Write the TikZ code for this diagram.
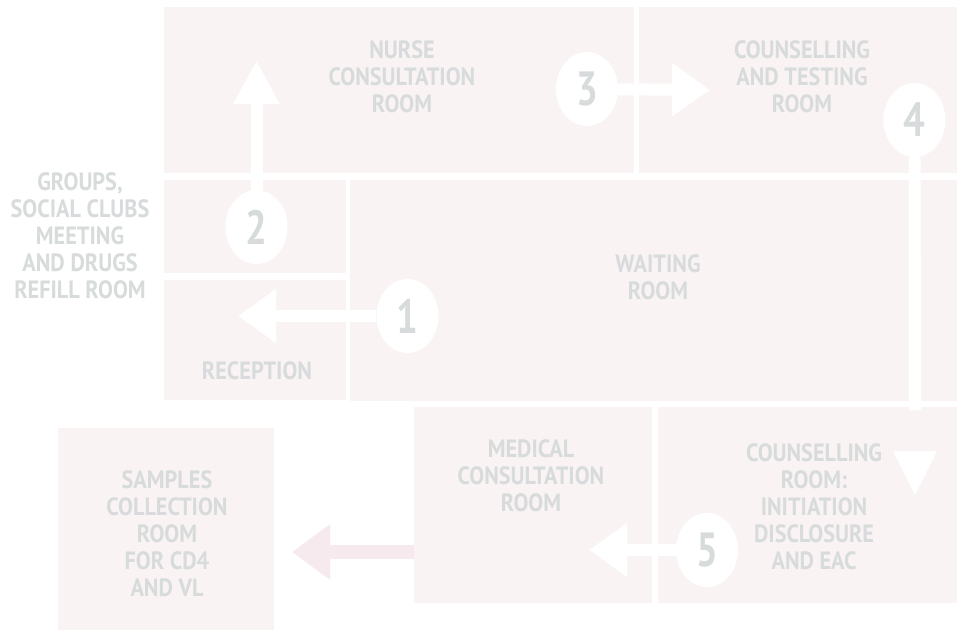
\documentclass[tikz,border=0pt]{standalone}
\usepackage{fontspec}
\newfontfamily\roomfont{PT Sans}[FakeStretch=0.89]
\newfontfamily\numfont{PT Sans}[FakeStretch=0.8]
\usetikzlibrary{arrows.meta,shapes.geometric}
\definecolor{roomfill}{HTML}{F9F3F4}
\definecolor{labelgray}{HTML}{D8DBDB}
\definecolor{pinkarrow}{HTML}{F7EAEE}
\tikzset{
  room/.style={fill=roomfill, inner sep=0pt, outer sep=0pt, anchor=north west},
  roomtext/.style={text=labelgray, font=\roomfont\bfseries\fontsize{25}{27}\selectfont, align=center, inner sep=0pt},
  numdisc/.style={ellipse, fill=white, minimum width=62pt, minimum height=74pt, inner sep=0pt, text=labelgray, font=\numfont\bfseries\fontsize{48}{48}\selectfont},
  flow/.style={white, line width=12pt},
  flowhead/.style={-{Triangle[length=38pt,width=51pt]}},
}
\begin{document}
\begin{tikzpicture}[x=1pt,y=-1pt]
\useasboundingbox[fill=white] (0,0) rectangle (957,630);
% rooms
\node[room, minimum width=470pt, minimum height=166pt] (nurse) at (164,7) {};
\node[room, minimum width=318pt, minimum height=166pt] (testing) at (639,7) {};
\node[room, minimum width=182pt, minimum height=93pt] (groups) at (164,180) {};
\node[room, minimum width=182pt, minimum height=120pt] (reception) at (164,280) {};
\node[room, minimum width=607pt, minimum height=221pt] (waiting) at (350,180) {};
\node[room, minimum width=238pt, minimum height=196pt] (medical) at (414,407) {};
\node[room, minimum width=299pt, minimum height=196pt] (counsel) at (658,407) {};
\node[room, minimum width=216pt, minimum height=202pt] (samples) at (58,428) {};
% labels
\node[roomtext] (lnurse) at (402,77) {NURSE\\CONSULTATION\\ROOM};
\node[roomtext] (ltesting) at (802,77) {COUNSELLING\\AND TESTING\\ROOM};
\node[roomtext] (lgroups) at (80,236) {GROUPS,\\SOCIAL CLUBS\\MEETING\\AND DRUGS\\REFILL ROOM};
\node[roomtext] (lreception) at (257,371) {RECEPTION};
\node[roomtext] (lwaiting) at (658,277.5) {WAITING\\ROOM};
\node[roomtext] (lmedical) at (531,476) {MEDICAL\\CONSULTATION\\ROOM};
\node[roomtext] (lcounsel) at (814,507) {COUNSELLING\\ROOM:\\INITIATION\\DISCLOSURE\\AND EAC};
\node[roomtext] (lsamples) at (167,534) {SAMPLES\\COLLECTION\\ROOM\\FOR CD4\\AND VL};
% arrow end points
\coordinate (t1) at (238,316);
\coordinate (t2) at (256.5,60);
\coordinate (t3) at (710,90);
\coordinate (c4) at (915,410);
\coordinate (t5) at (589,550);
\coordinate (t6) at (292,552);
% step discs
\node[numdisc] (n1) at (407.5,316) {1};
\node[numdisc] (n2) at (256.5,227) {2};
\node[numdisc] (n3) at (587,89) {3};
\node[numdisc] (n4) at (914.5,120) {4};
\node[numdisc] (n5) at (707,550) {5};
% arrows
\draw[flow, flowhead] (n1) -- (t1);
\draw[flow, -{Triangle[length=44pt,width=43pt]}] (n2) -- (t2);
\draw[flow, flowhead] (n3) -- (t3);
\draw[flow] (n4) -- (c4);
\fill[white] (893,451) -- (937,451) -- (915,495) -- cycle;
\draw[flow, flowhead] (n5) -- (t5);
\draw[pinkarrow, line width=14pt, -{Triangle[length=38pt,width=53pt]}] (medical.west |- t6) -- (t6);
\end{tikzpicture}
\end{document}
